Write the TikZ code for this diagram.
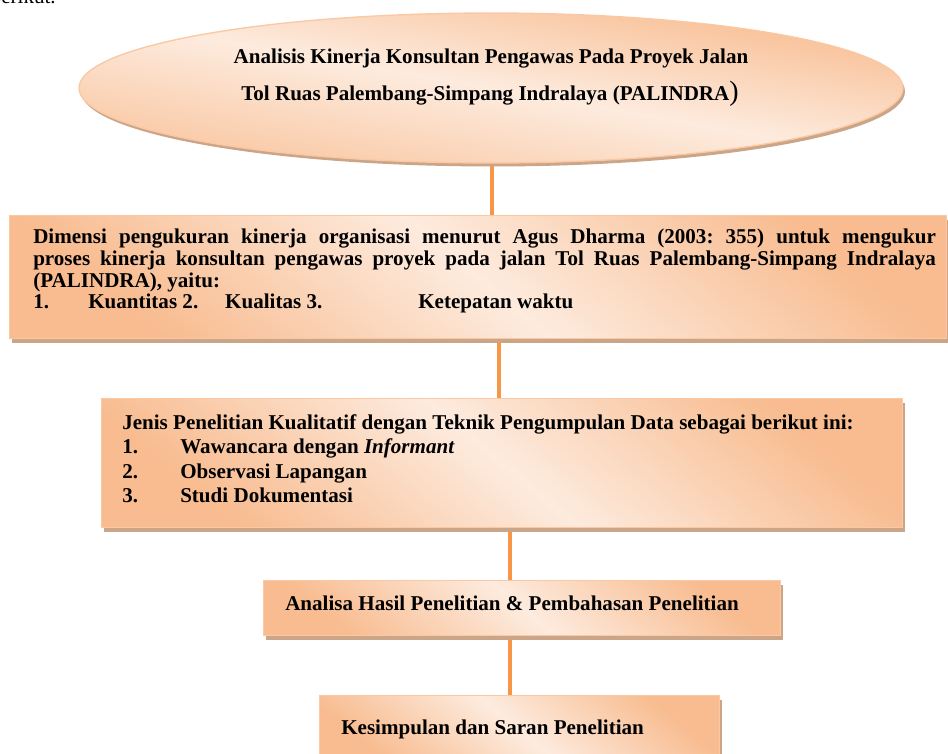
\documentclass[tikz,border=0pt]{standalone}
\usepackage{fontspec}
\setmainfont{Liberation Serif}
\usetikzlibrary{shadows,shapes.geometric}
\pgfdeclarelayer{background}
\pgfsetlayers{background,main}
\definecolor{edgeorange}{HTML}{F8BC90}
\definecolor{lightpeach}{HTML}{FDEBDE}
\definecolor{lineorange}{HTML}{F79646}
\definecolor{shadowtan}{HTML}{CBA588}
\definecolor{borderorange}{HTML}{FAC8A2}
\frenchspacing
\begin{document}
\begin{tikzpicture}[x=0.75pt,y=-0.75pt,
  card/.style={draw=borderorange, line width=1pt, rectangle, inner sep=0pt,
    anchor=north west, top color=edgeorange, bottom color=edgeorange,
    middle color=lightpeach, shading angle=-40,
    drop shadow={fill=shadowtan, shadow xshift=2pt, shadow yshift=-3.6pt, opacity=1}},
  oval/.style={draw=borderorange, line width=1pt, ellipse, inner sep=0pt,
    top color=edgeorange, bottom color=edgeorange!80!lightpeach,
    middle color=lightpeach, shading angle=-10,
    drop shadow={fill=shadowtan, shadow xshift=1.5pt, shadow yshift=-2.6pt, opacity=1}},
  conn/.style={draw=lineorange, line width=3pt},
  txt/.style={inner sep=0pt, anchor=base west, font=\fontsize{15.8}{18}\selectfont\bfseries},
  ctxt/.style={inner sep=0pt, anchor=base, font=\fontsize{15.8}{18}\selectfont\bfseries}]
\useasboundingbox (0,0) rectangle (948,753);
\clip (0,0) rectangle (948,753);

% cut-off text from the preceding paragraph
\node[inner sep=0pt, anchor=base east, font=\fontsize{15.8}{18}\selectfont] (prev) at (56,3) {berikut.};

% shapes
\node[oval, minimum width={824*0.75pt}, minimum height={150*0.75pt}] (ell) at (491,88) {};
\node[card, minimum width={937*0.75pt}, minimum height={123*0.75pt}] (box1) at (9,215) {};
\node[card, minimum width={801*0.75pt}, minimum height={129*0.75pt}] (box2) at (101,398) {};
\node[card, minimum width={517*0.75pt}, minimum height={55*0.75pt}] (box3) at (263,580) {};
\node[card, minimum width={400*0.75pt}, minimum height={70*0.75pt}] (box4) at (319,695) {};

% connectors
\coordinate (c1) at (492,0);
\coordinate (c2) at (499,0);
\coordinate (c3) at (510,0);
\begin{pgfonlayer}{background}
\draw[conn] (ell.south -| c1) -- (box1.north -| c1);
\draw[conn] (box1.south -| c2) -- (box2.north -| c2);
\draw[conn] (box2.south -| c3) -- (box3.north -| c3);
\draw[conn] (box3.south -| c3) -- (box4.north -| c3);
\end{pgfonlayer}

% ellipse text
\node[ctxt] (e1) at (491,63) {Analisis Kinerja Konsultan Pengawas Pada Proyek Jalan};
\node[ctxt] (e2) at (490,100) {Tol Ruas Palembang-Simpang Indralaya (PALINDRA{\mdseries\fontsize{21}{21}\selectfont)}};

% box 1 text
\node[txt] (b1l1) at (33,243) {\makebox[677pt][s]{Dimensi pengukuran kinerja organisasi menurut Agus Dharma (2003: 355) untuk mengukur}};
\node[txt] (b1l2) at (33,265) {\makebox[677pt][s]{proses kinerja konsultan pengawas proyek pada jalan Tol Ruas Palembang-Simpang Indralaya}};
\node[txt] (b1l3) at (33,287) {(PALINDRA), yaitu:};
\node[txt] (b1l4) at (33,308) {\makebox[41.25pt][l]{1.}\makebox[102.75pt][l]{Kuantitas 2.}\makebox[144.75pt][l]{Kualitas 3.}Ketepatan waktu};

% box 2 text
\node[txt] (b2l1) at (122,429) {Jenis Penelitian Kualitatif dengan Teknik Pengumpulan Data sebagai berikut ini:};
\node[txt] (b2n1) at (122,453) {1.};
\node[txt] (b2i1) at (180,453) {Wawancara dengan \textit{Informant}};
\node[txt] (b2n2) at (122,478) {2.};
\node[txt] (b2i2) at (180,478) {Observasi Lapangan};
\node[txt] (b2n3) at (122,502) {3.};
\node[txt] (b2i3) at (180,502) {Studi Dokumentasi};

% box 3 and 4 text
\node[txt] (b3t) at (285,610) {Analisa Hasil Penelitian \& Pembahasan Penelitian};
\node[txt] (b4t) at (341,734) {Kesimpulan dan Saran Penelitian};
\end{tikzpicture}
\end{document}
